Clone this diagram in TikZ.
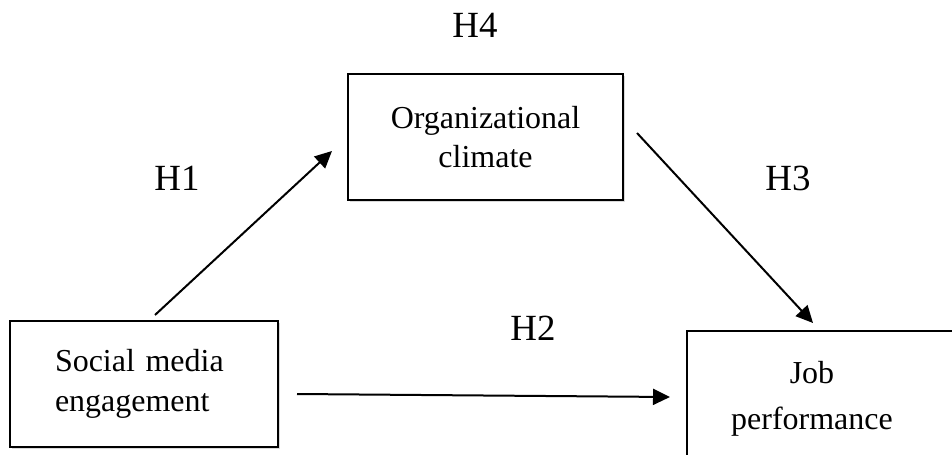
\documentclass[tikz,border=0pt]{standalone}
\usepackage{fontspec}
\setmainfont{Liberation Serif}
\usetikzlibrary{arrows.meta}
\usetikzlibrary{shadows}

\tikzset{
    factor/.style={draw,line width=0.04cm,fill=white,inner sep=0pt,
        drop shadow={shadow xshift=0.04cm,shadow yshift=-0.04cm,opacity=0.3},
        minimum height=2.52cm,font=\fontsize{18.2}{22.6}\selectfont},
    hyp/.style={inner sep=0pt,font=\fontsize{21}{25}\selectfont},
    effect/.style={line width=0.04cm,-{Triangle[length=0.34cm,width=0.32cm]}}
}

\begin{document}
\begin{tikzpicture}[x=0.02cm,y=-0.02cm]
        \useasboundingbox (0,0) rectangle (952,455);
        \clip (0,0) rectangle (952,455);
        % constructs
        \node[factor,minimum width=5.36cm,text width=3.56cm,align=left] (sme) at (144,384) {Social media\\engagement};
        \node[factor,minimum width=5.5cm,align=center] (climate) at (485.5,137) {Organizational\\climate};
        \node[factor,minimum width=6cm,minimum height=3cm,anchor=north west] (jobperf) at (686,330) {};
        \node[inner sep=0pt,align=center,font=\fontsize{18.2}{26.2}\selectfont] (jobtext) at (812,398.5) {Job\\performance};
        % paths
        \coordinate (h1s) at (155,315);
        \coordinate (h1e) at (332,151);
        \coordinate (h2s) at (297,394);
        \coordinate (h2e) at (670,397);
        \coordinate (h3s) at (637,133);
        \coordinate (h3e) at (813,323);
        \draw[effect] (h1s) -- (h1e);
        \draw[effect] (h2s) -- (h2e);
        \draw[effect] (h3s) -- (h3e);
        % hypotheses
        \node[hyp] (hone) at (177,178) {H1};
        \node[hyp] (htwo) at (533,328) {H2};
        \node[hyp] (hthree) at (788,178) {H3};
        \node[hyp] (hfour) at (475,25) {H4};
    \end{tikzpicture}
\end{document}
